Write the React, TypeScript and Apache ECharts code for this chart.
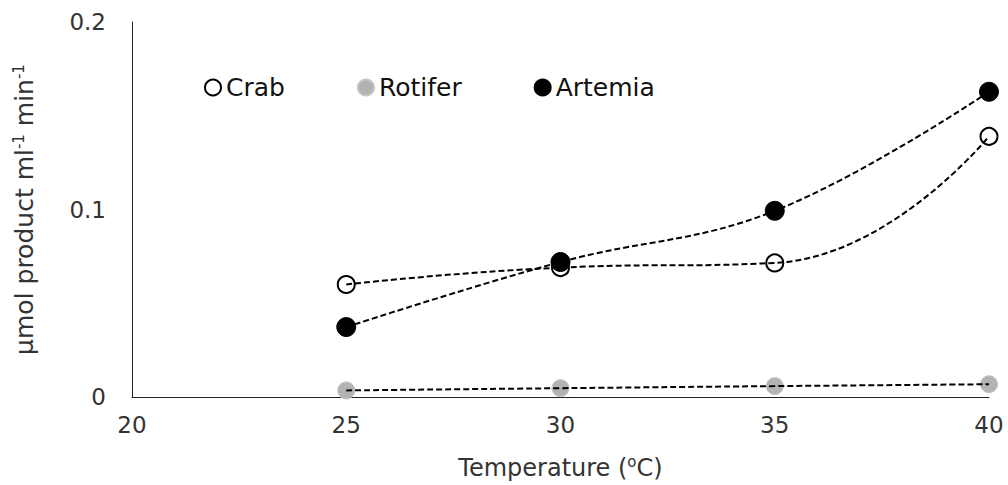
import React, { useEffect, useRef } from "react";
import * as echarts from "echarts";

const temperatures = [25, 30, 35, 40];
const crab = [0.06, 0.069, 0.0715, 0.139];
const rotifer = [0.0035, 0.0047, 0.0058, 0.0068];
const artemia = [0.0373, 0.072, 0.0993, 0.1628];
const xTicks = [20, 25, 30, 35, 40];
const yTicks = [0, 0.1, 0.2];

const FONT = "DejaVu Sans";

function pairs(vals: number[]) {
  return temperatures.map((t, i) => [t, vals[i]]);
}

export default function App() {
  const ref = useRef<HTMLDivElement>(null);
  useEffect(() => {
    if (!ref.current) return;
    const chart = echarts.init(ref.current, undefined, { renderer: "svg" });
    const lineStyle = { color: "#000", width: 2, type: [6, 3] as any };
    const markerDefs = [
      { name: "Crab", data: crab, size: 17, smooth: 0.5, itemStyle: { color: "#fff", borderColor: "#000", borderWidth: 2, opacity: 1 } },
      { name: "Rotifer", data: rotifer, size: 17, smooth: 0.5, itemStyle: { color: "#b3b3b3", borderColor: "#c4c4c4", borderWidth: 1, opacity: 1 } },
      { name: "Artemia", data: artemia, size: 19, smooth: 0.4, itemStyle: { color: "#000", borderColor: "#000", borderWidth: 1, opacity: 1 } },
    ];
    const series: any[] = [];
    markerDefs.forEach((m) => {
      series.push({
        type: "scatter",
        name: m.name,
        data: pairs(m.data),
        symbol: "circle",
        symbolSize: m.size,
        itemStyle: m.itemStyle,
        z: 2,
      });
    });
    markerDefs.forEach((m) => {
      series.push({
        type: "line",
        name: m.name + " trend",
        data: pairs(m.data),
        showSymbol: false,
        symbol: "none",
        smooth: m.smooth,
        smoothConstraint: false,
        lineStyle,
        z: 3,
      });
    });
    chart.setOption({
      animation: false,
      textStyle: { fontFamily: FONT },
      grid: { left: 132, right: 19, top: 22, bottom: 88 },
      legend: {
        data: ["Crab", "Rotifer", "Artemia"],
        left: 204,
        top: 75,
        padding: 0,
        icon: "circle",
        itemWidth: 16,
        itemHeight: 16,
        itemGap: 72,
        textStyle: { fontFamily: FONT, fontSize: 25, color: "#111", padding: [0, 0, 0, 0] },
      },
      xAxis: {
        type: "value",
        min: 20,
        max: 40,
        interval: 5,
        axisLine: { show: true, lineStyle: { color: "#222", width: 1 } },
        axisTick: { show: false },
        splitLine: { show: false },
        axisLabel: {
          fontFamily: FONT,
          fontSize: 23,
          color: "#333",
          margin: 16,
          formatter: (v: number) => (xTicks.includes(v) ? String(v) : ""),
        },
        name: "Temperature ({sup|o}C)",
        nameLocation: "middle",
        nameGap: 57,
        nameTextStyle: {
          fontFamily: FONT,
          fontSize: 24,
          color: "#333",
          rich: { sup: { fontSize: 15, padding: [0, 0, 12, 0], color: "#333" } },
        },
      },
      yAxis: {
        type: "value",
        min: 0,
        max: 0.2,
        interval: 0.1,
        axisLine: { show: true, lineStyle: { color: "#222", width: 1 } },
        axisTick: { show: false },
        splitLine: { show: false },
        axisLabel: {
          fontFamily: FONT,
          fontSize: 23,
          color: "#333",
          margin: 26,
          formatter: (v: number) => {
            const t = yTicks.find((y) => Math.abs(y - v) < 1e-9);
            return t === undefined ? "" : String(t);
          },
        },
        name: "µmol product ml{sup|-1} min{sup|-1}",
        nameLocation: "middle",
        nameGap: 94,
        nameTextStyle: {
          fontFamily: FONT,
          fontSize: 25,
          color: "#333",
          rich: { sup: { fontSize: 15, padding: [0, 0, 12, 0], color: "#333" } },
        },
      },
      series,
    });
    return () => chart.dispose();
  }, []);
  return (
    <div
      ref={ref}
      style={{ position: "absolute", left: 0, top: 0, width: 1008, height: 485 }}
    />
  );
}
